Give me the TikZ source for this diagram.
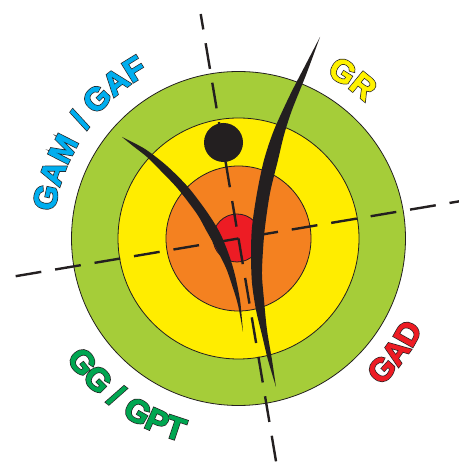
\documentclass[tikz,border=0pt]{standalone}
\usepackage{fontspec}
\usetikzlibrary{decorations.text}
\newfontfamily\lblfont{Liberation Sans}[FakeBold=1.5]
\newfontfamily\lbloutfont{Liberation Sans}[FakeBold=6]
\newcommand\lblfill{\lblfont\bfseries\fontsize{32}{32}\selectfont}
\newcommand\lblline{\lbloutfont\bfseries\fontsize{32}{32}\selectfont}
\definecolor{ringgreen}{HTML}{A5CD39}
\definecolor{ringyellow}{HTML}{FFED00}
\definecolor{ringorange}{HTML}{F48120}
\definecolor{ringred}{HTML}{ED1C24}
\definecolor{ink}{HTML}{231F20}
\definecolor{txtcyan}{HTML}{00AEEF}
\definecolor{txtgreen}{HTML}{00A651}
\definecolor{txtyellow}{HTML}{FFF200}
\definecolor{txtred}{HTML}{ED1C24}
% #1 colour, #2 text, #3 start angle, #4 end angle, #5 radius
\newcommand\arclabelx[5]{%
  \path[decorate, decoration={text along path, text align=center, text color=ink,
     text={|\lblline|#2}}]
     (Cp) ++({#3}:#5) arc[start angle={#3}, end angle={#4}, radius=#5];
  \path[decorate, decoration={text along path, text align=center, text color=#1,
     text={|\lblfill|#2}}]
     (Cp) ++({#3}:#5) arc[start angle={#3}, end angle={#4}, radius=#5];
}
\newcommand\toplabel[4]{\arclabelx{#1}{#2}{#3+45}{#3-45}{#4}}
\newcommand\botlabel[4]{\arclabelx{#1}{#2}{#3-45}{#3+45}{#4}}
\begin{document}
\begin{tikzpicture}[x=1pt,y=1pt,
  ring/.style={draw=ink, line width=0.8pt},
  axisline/.style={draw=ink, line width=2.4pt, dash pattern=on 26pt off 14pt}]
\useasboundingbox (0,0) rectangle (458,463);
\begin{scope}[shift={(0,463)}, yscale=-1]
  \coordinate (C) at (238.5,238.5);
  \coordinate (R) at (237,238);
  \coordinate (T1) at (200.7,14);
  \coordinate (B1) at (276.3,463);
  \coordinate (L2) at (15,276.3);
  \coordinate (R2) at (460,201.2);
  \coordinate (D) at (223.5,142.5);
  \draw[ring, fill=ringgreen] (C) circle[radius=167];
  \draw[ring, fill=ringyellow] (C) circle[radius=120.5];
  \draw[ring, fill=ringorange] (C) circle[radius=72.5];
  \draw[ring, fill=ringred] (R) circle[radius=24];
  \draw[axisline] (C) -- (B1);
  \draw[axisline] (C) -- (L2);
  \draw[axisline, dash phase=28pt] (C) -- (T1);
  \draw[axisline, dash phase=26pt] (C) -- (R2);
  \fill[ink] (D) circle[radius=19.5];
  % left blade
  \fill[ink] plot[smooth] coordinates {(122,137) (145,149) (167,166) (188,187) (207,212) (220,233) (229,255) (235,275) (240,300) (242,320) (243,332)}
    -- plot[smooth] coordinates {(243,332) (238,305) (232,285) (226,268) (216,248) (206,230) (197,214) (178,189) (160,170) (147,157) (133,146) (122,137)} -- cycle;
  % right blade
  \fill[ink] plot[smooth] coordinates {(320,37) (307,62) (290,95) (274,130) (264,160) (257,193) (252,227) (251,255) (252,283) (256,310) (262,335) (268,360) (276,387)}
    -- plot[smooth] coordinates {(276,387) (272,360) (267,330) (264,300) (262,275) (263,250) (265,227) (270,193) (278,160) (284,135) (292,110) (306,75) (320,37)} -- cycle;
\end{scope}
\coordinate (Cp) at (238.5,224.5);
\toplabel{txtcyan}{GAM}{160.3}{186}
\toplabel{txtcyan}{/}{143.2}{187}
\toplabel{txtcyan}{GAF}{128.9}{188}
\toplabel{txtyellow}{GR}{54.5}{186}
\botlabel{txtgreen}{GG}{221.7}{210}
\botlabel{txtgreen}{/}{232.1}{210}
\botlabel{txtgreen}{GPT}{245.3}{211}
\botlabel{txtred}{GAD}{-36}{205}
\end{tikzpicture}
\end{document}
